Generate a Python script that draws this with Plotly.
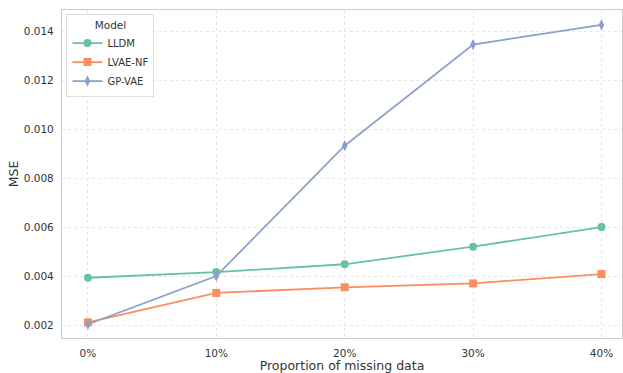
import plotly.graph_objects as go

x_vals = [0, 10, 20, 30, 40]
x_labels = ["0%", "10%", "20%", "30%", "40%"]
lldm = [0.00393, 0.00416, 0.00448, 0.00520, 0.00600]
lvae_nf = [0.00211, 0.00331, 0.00354, 0.00370, 0.00408]
gp_vae = [0.00203, 0.00400, 0.00932, 0.01345, 0.01425]
y_ticks = [0.002, 0.004, 0.006, 0.008, 0.010, 0.012, 0.014]

font = "DejaVu Sans"
fig = go.Figure()
series = [
    ("LLDM", lldm, "#66c2a5", "circle"),
    ("LVAE-NF", lvae_nf, "#fc8d62", "square"),
    ("GP-VAE", gp_vae, "#8da0cb", "diamond-tall"),
]
for name, ys, col, sym in series:
    fig.add_trace(go.Scatter(
        x=x_vals, y=ys, name=name, mode="lines+markers",
        line=dict(color=col, width=1.8),
        marker=dict(color=col, symbol=sym, size=8),
    ))

fig.update_layout(
    width=623, height=373,
    margin=dict(l=62, r=1, t=10, b=35),
    paper_bgcolor="white", plot_bgcolor="white",
    font=dict(family=font, size=10.5, color="#333333"),
    legend=dict(
        x=0.008, y=0.988, xanchor="left", yanchor="top",
        bgcolor="rgba(255,255,255,0.85)", bordercolor="#dddddd", borderwidth=1,
        title=dict(text="Model", side="top center", font=dict(size=10.5)),
        font=dict(size=10), tracegroupgap=0, itemwidth=30,
    ),
    showlegend=True,
)
fig.update_xaxes(
    range=[-2.02, 41.6], tickvals=x_vals, ticktext=x_labels,
    showgrid=True, gridcolor="#e6e6e6", griddash="dot", gridwidth=1,
    showline=True, linecolor="#cccccc", linewidth=1.2, mirror=True,
    ticks="outside", ticklen=5, tickcolor="rgba(0,0,0,0)",
    zeroline=False,
    title=dict(text="Proportion of missing data", font=dict(size=12.5), standoff=4),
)
fig.update_yaxes(
    range=[0.00147, 0.01486], tickvals=y_ticks,
    ticktext=[f"{v:.3f}" for v in y_ticks],
    showgrid=True, gridcolor="#e6e6e6", griddash="dot", gridwidth=1,
    showline=True, linecolor="#cccccc", linewidth=1.2, mirror=True,
    ticks="outside", ticklen=5, tickcolor="rgba(0,0,0,0)",
    zeroline=False,
    title=dict(text="MSE", font=dict(size=12.5), standoff=2),
)
fig.write_html("out.html", config={"displayModeBar": False},
               post_script="document.body.style.margin='0';")
